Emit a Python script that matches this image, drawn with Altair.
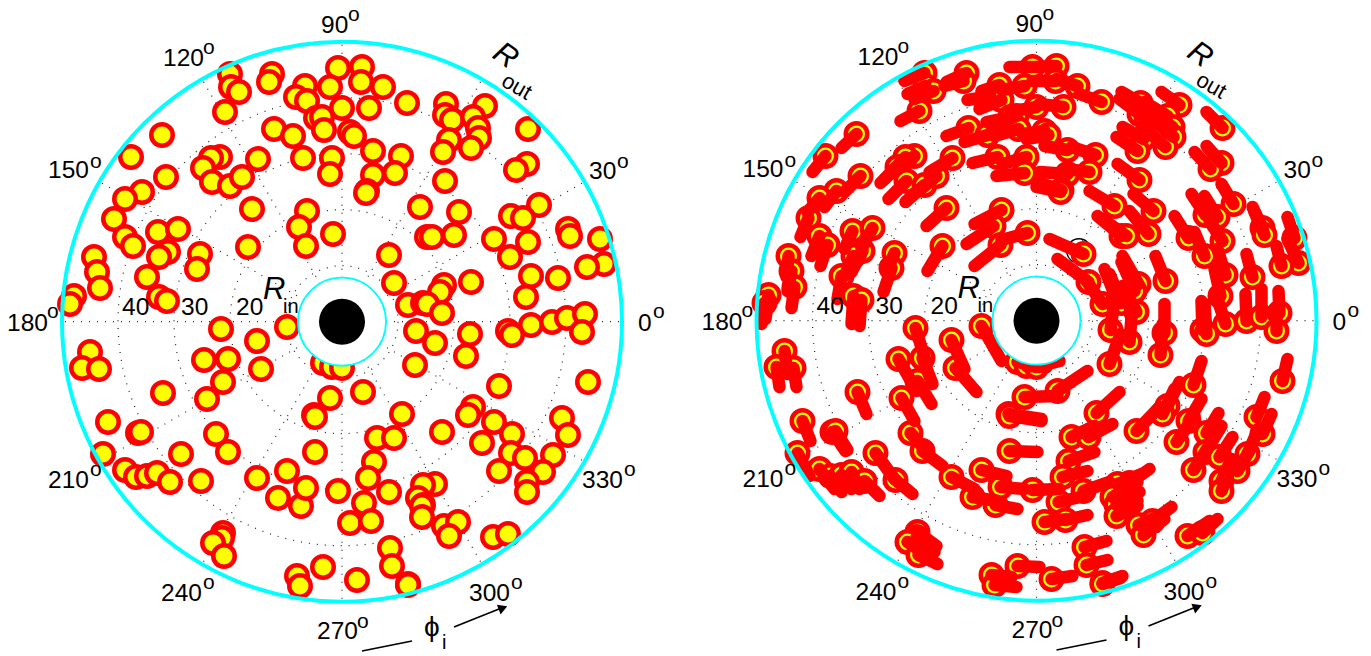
import math
import altair as alt
import pandas as pd

# every tuple: position of a particle (x, y) and where its trail ends (tx, ty)
upper_left = [
 (230,74,210,82),(231,87,213,95),(239,92,220,100),(225,112,206,122),(272,74,252,83),(269,82,250,87),
 (338,68,315,68),(330,87,307,91),(305,86,287,92),(296,97,273,101),(307,101,285,110),(342,108,320,112),
 (316,118,292,123),(322,117,297,127),(324,130,300,137),(274,129,252,137),(293,136,270,143),(303,158,278,164),
 (332,158,308,165),(330,174,302,177),(162,135,147,149),(131,157,118,173),(166,177,150,193),(220,157,200,173),
 (211,158,190,180),(203,168,186,184),(212,182,194,200),(230,186,211,203),(242,177,223,193),(258,159,235,173),
 (142,192,130,208),(125,199,113,213),(114,219,106,238),(125,237,117,257),(133,246,126,267),(158,232,150,250),
 (178,229,167,250),(168,252,157,273),(159,257,150,277),(200,254,192,273),(197,269,189,293),(252,209,232,227),
 (307,211,280,225),(299,227,272,245),(306,246,280,267),(333,234,307,241),(248,247,233,272),(94,257,92,278),
 (97,272,93,292),(100,288,97,309),(74,296,71,320),(70,304,67,325),(147,277,143,300),(159,297,157,325),
 (167,301,165,327),
]
upper_right = [
 (362,67,340,68),(361,82,338,82),(383,87,362,80),(407,103,385,95),(369,108,345,105),(350,132,328,135),
 (354,136,332,140),(373,151,350,147),(401,156,377,148),(395,173,372,170),(373,175,345,173),(367,191,342,183),
 (366,193,342,188),(446,104,427,93),(445,115,425,100),(452,120,430,102),(485,106,467,93),(473,117,450,103),
 (478,128,453,112),(479,138,457,120),(471,148,447,127),(449,140,428,128),(443,152,422,138),(528,129,512,113),
 (527,164,512,147),(516,170,500,153),(445,181,423,165),(420,207,395,192),(459,212,439,195),(427,237,403,217),
 (432,237,408,220),(454,235,435,212),(389,255,355,240),(394,283,363,260),(539,205,527,185),(511,216,497,195),
 (523,218,510,197),(568,229,558,208),(570,236,560,213),(528,242,515,222),(494,239,480,217),(510,257,500,233),
 (600,239,593,218),(604,264,593,240),(587,267,582,247),(531,276,523,250),(558,278,552,255),(526,297,520,270),
 (471,282,461,257),(444,285,428,257),(440,292,427,263),(408,305,392,282),(423,303,410,270),(427,304,415,275),
 (442,313,428,287),(531,325,522,297),(552,322,551,295),(567,318,567,290),(585,314,584,292),
]
lower_left = [
 (90,352,93,375),(82,368,85,388),(99,369,102,388),(221,329,232,365),(287,327,307,362),(257,341,270,370),
 (261,369,282,393),(204,360,222,392),(228,359,238,385),(223,382,237,405),(207,399,220,422),(163,393,172,415),
 (108,422,116,442),(138,433,151,452),(141,432,153,451),(103,454,115,477),(125,470,140,490),(136,477,147,493),
 (147,476,157,490),(157,473,165,490),(170,482,185,497),(181,454,200,480),(201,481,218,495),(216,434,232,452),
 (228,452,248,467),(257,478,280,490),(287,471,312,477),(278,498,303,502),(301,506,323,510),(306,488,330,490),
 (338,491,365,490),(314,415,347,420),(315,417,347,422),(330,398,363,397),(315,452,343,453),(223,533,242,547),
 (222,538,240,553),(213,543,233,557),(224,556,243,565),(297,576,317,578),(300,586,322,588),(323,567,345,568),
 (323,363,345,368),(332,367,352,368),
]
lower_right = [
 (342,368,365,362),(416,331,420,300),(470,334,470,305),(508,331,507,302),(512,335,510,305),(582,332,582,308),
 (435,343,438,305),(466,356,468,325),(415,365,426,335),(363,392,393,372),(402,414,425,393),(442,432,465,408),
 (377,438,400,427),(394,438,418,425),(374,462,400,453),(368,478,393,472),(389,492,415,483),(364,503,390,497),
 (350,523,373,520),(371,521,393,516),(390,548,412,542),(392,566,413,561),(408,584,428,577),(408,585,426,579),
 (357,580,378,577),(473,407,485,383),(468,415,480,390),(494,422,507,400),(482,443,500,417),(512,434,524,414),
 (511,453,527,427),(525,458,538,438),(553,455,563,432),(543,472,557,448),(499,471,517,443),(527,482,537,460),
 (527,492,537,467),(562,418,570,398),(568,435,577,415),(588,382,593,360),(499,386,507,362),(435,484,455,470),
 (423,485,447,475),(418,498,443,483),(423,505,445,493),(422,506,443,502),(422,517,443,507),(444,526,465,517),
 (458,522,477,508),(449,536,470,520),(493,537,515,522),(508,534,523,520),
]
hidden_ring = [(384.5, 252)]

ring_radii = [56, 112, 168, 224]
spoke_angles = [0, 30, 60, 90, 120, 150, 180, 210, 240, 270, 300, 330]
angle_text = ["90", "120", "150", "180", "210", "240", "270", "300", "330", "0", "30"]
angle_x = [321, 163, 48, 7, 48, 161, 317, 469, 582, 638, 589]
angle_y = [33, 66, 178, 331, 488, 601, 639, 601, 488, 331, 179]
deg_x = [354, 209, 96, 53, 96, 209, 363, 517, 630, 659, 623]
deg_y = [15, 48, 162, 312, 470, 583, 622, 583, 470, 312, 162]
radius_text = ["40", "30", "20"]
radius_x = [122, 181, 236]
radius_y = [315, 315, 315]

CX, CY, R_OUT, R_IN, R_HOLE = 342, 321.7, 280, 44, 23
DX, DY = 694.5, -1
WIDTH, HEIGHT = 1355, 644
xs = alt.Scale(domain=[8, 8 + WIDTH], nice=False, zero=False)
ys = alt.Scale(domain=[8 + HEIGHT, 8], nice=False, zero=False)
FONT = "Liberation Sans"


def enc(**extra):
    return dict(x=alt.X("x:Q", scale=xs, axis=None), y=alt.Y("y:Q", scale=ys, axis=None), **extra)


def seg_enc():
    return dict(x=alt.X("x:Q", scale=xs, axis=None), y=alt.Y("y:Q", scale=ys, axis=None),
                x2=alt.X2("x2:Q"), y2=alt.Y2("y2:Q"))


def label(text, x, y, size, dx, dy, **kw):
    df = pd.DataFrame({"x": [v + dx for v in x], "y": [v + dy for v in y], "t": text})
    return alt.Chart(df).mark_text(font=FONT, fontSize=size, color="black", align="left",
                                   baseline="alphabetic", **kw).encode(**enc(text="t:N"))


all_pts = upper_left + upper_right + lower_left + lower_right
layers = []
for panel, (dx, dy) in enumerate([(0, 0), (DX, DY)]):
    cx, cy = CX + dx, CY + dy
    centre = pd.DataFrame({"x": [cx], "y": [cy]})
    # grid
    layers.append(alt.Chart(pd.DataFrame({"x": [cx] * 4, "y": [cy] * 4, "r": ring_radii})).mark_point(
        shape="circle", filled=False, stroke="#222222", strokeWidth=1.2, strokeDash=[1, 7], opacity=1
    ).encode(**enc(size=alt.Size("s:Q", scale=None, legend=None))).transform_calculate(s="datum.r*datum.r*4"))
    spokes = pd.DataFrame({
        "x": [cx + R_IN * math.cos(math.radians(a)) for a in spoke_angles],
        "y": [cy - R_IN * math.sin(math.radians(a)) for a in spoke_angles],
        "x2": [cx + R_OUT * math.cos(math.radians(a)) for a in spoke_angles],
        "y2": [cy - R_OUT * math.sin(math.radians(a)) for a in spoke_angles],
    })
    layers.append(alt.Chart(spokes).mark_rule(stroke="#222222", strokeWidth=1.2, strokeDash=[1, 7]).encode(**seg_enc()))
    if panel == 1:
        ring = pd.DataFrame({"x": [p[0] + dx for p in hidden_ring], "y": [p[1] + dy for p in hidden_ring]})
        layers.append(alt.Chart(ring).mark_point(shape="circle", filled=False, stroke="black", strokeWidth=1.3,
                                                 size=600, opacity=1).encode(**enc()))
    # particles
    heads = pd.DataFrame({"x": [p[0] + dx for p in all_pts], "y": [p[1] + dy for p in all_pts]})
    layers.append(alt.Chart(heads).mark_point(shape="circle", filled=True, fill="#ffff00", stroke="#ff0000",
                                              strokeWidth=4.5, size=462, opacity=1).encode(**enc()))
    if panel == 1:
        tails = pd.DataFrame({"x": [p[0] + dx for p in all_pts], "y": [p[1] + dy for p in all_pts],
                              "x2": [p[2] + dx for p in all_pts], "y2": [p[3] + dy for p in all_pts]})
        layers.append(alt.Chart(tails).mark_rule(stroke="#ff0000", strokeWidth=12.5, strokeCap="round").encode(**seg_enc()))
    # disc boundaries and central body
    layers.append(alt.Chart(centre).mark_point(shape="circle", filled=False, stroke="#00ffff", strokeWidth=4,
                                               size=(2 * R_OUT) ** 2, opacity=1).encode(**enc()))
    layers.append(alt.Chart(centre).mark_point(shape="circle", filled=True, fill="white", stroke="#00ffff",
                                               strokeWidth=1.8, size=(2 * R_IN) ** 2, opacity=1).encode(**enc()))
    layers.append(alt.Chart(centre).mark_point(shape="circle", filled=True, fill="black", size=(2 * R_HOLE) ** 2,
                                               opacity=1).encode(**enc()))
    # text
    layers.append(label(angle_text, angle_x, angle_y, 24.5, dx, dy))
    layers.append(label(["o"] * len(deg_x), [v - 6 for v in deg_x], [v + 5.5 for v in deg_y], 21, dx, dy))
    layers.append(label(radius_text, radius_x, radius_y, 24.5, dx, dy))
    layers.append(label(["R"], [263], [299], 31, dx, dy, fontStyle="italic"))
    layers.append(label(["in"], [283], [313], 20, dx, dy))
    layers.append(label(["R"], [491], [57], 31, dx, dy, fontStyle="italic", angle=35))
    layers.append(label(["out"], [500], [85], 22, dx, dy, angle=30))
    layers.append(label(["\u03d5"], [424], [636], 28, dx, dy))
    layers.append(label(["i"], [442], [649], 20, dx, dy))
    # phi arrow
    arrow = pd.DataFrame({"x": [362 + dx, 454 + dx], "y": [651 + dy, 627 + dy],
                          "x2": [412 + dx, 504 + dx], "y2": [641 + dy, 607 + dy]})
    layers.append(alt.Chart(arrow).mark_rule(stroke="black", strokeWidth=1.6).encode(**seg_enc()))
    tip = pd.DataFrame({"x": [503 + dx], "y": [608 + dy]})
    layers.append(alt.Chart(tip).mark_point(shape="triangle-up", filled=True, fill="black", size=110, angle=69,
                                            opacity=1).encode(**enc()))

chart = alt.layer(*layers).properties(
    width=WIDTH, height=HEIGHT, padding=0, autosize=alt.AutoSizeParams(type="none"), background="white"
).configure_view(stroke=None)

chart.save("out.html", embed_options={"renderer": "svg", "actions": False})
